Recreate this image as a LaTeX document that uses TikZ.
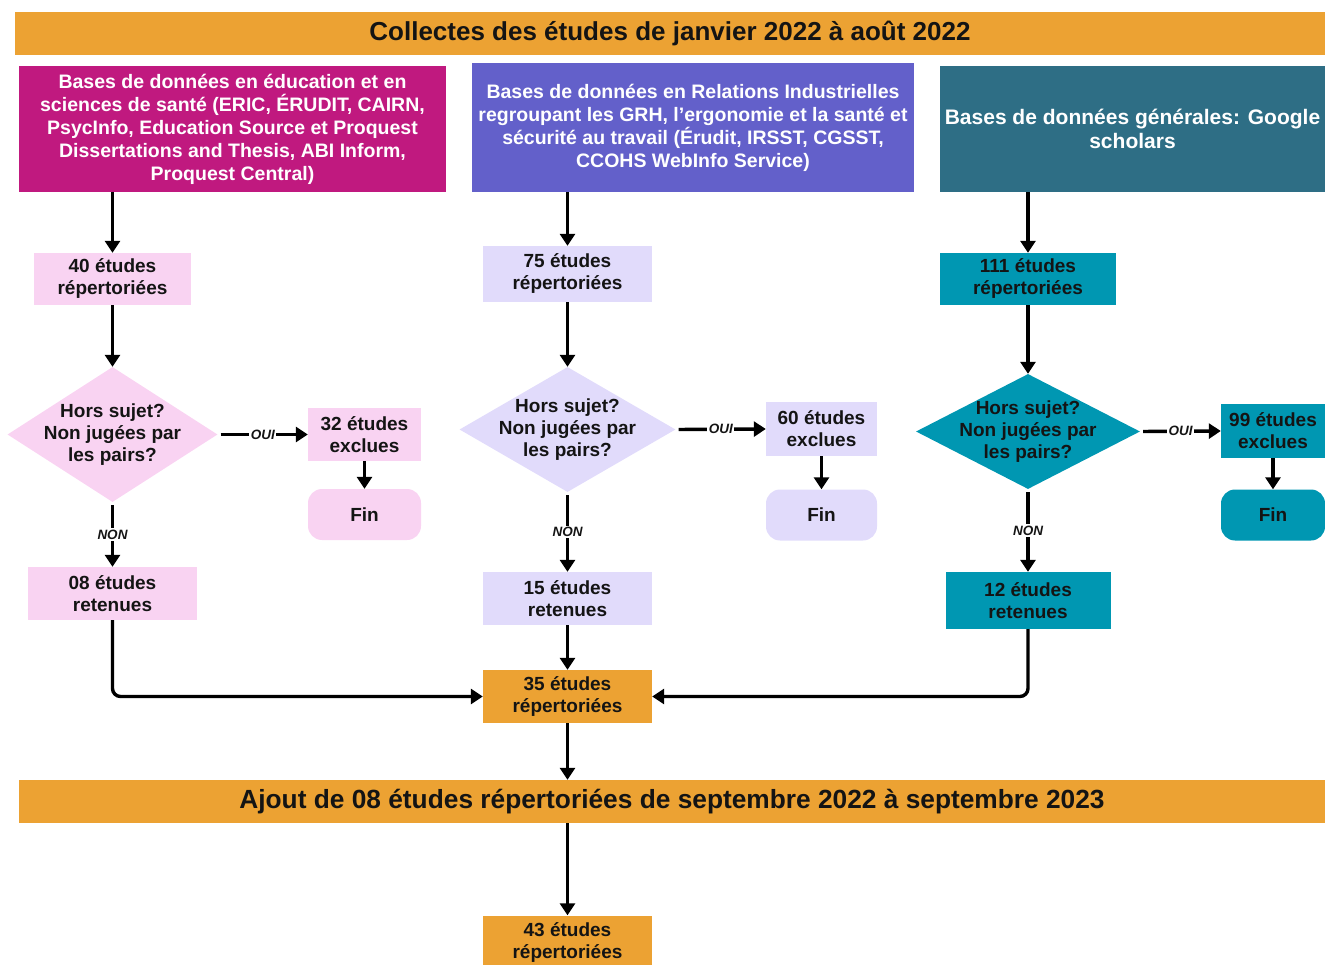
\documentclass[tikz,border=0pt]{standalone}
\usepackage{fontspec}
\setmainfont{Liberation Sans}
\usetikzlibrary{arrows.meta,shapes.geometric}

\definecolor{barorange}{HTML}{ECA233}
\definecolor{srcmagenta}{HTML}{C0197F}
\definecolor{srcpurple}{HTML}{6360CA}
\definecolor{srcteal}{HTML}{2E6E85}
\definecolor{lightpink}{HTML}{F9D3F2}
\definecolor{lavender}{HTML}{E1DBFB}
\definecolor{cyanteal}{HTML}{0097B2}
\definecolor{ink}{HTML}{141414}

\begin{document}
\begin{tikzpicture}
  [x=1pt, y=-1pt,
    every node/.style={align=center, inner sep=0pt, text=ink,
      font=\bfseries\fontsize{19}{22}\selectfont},
    bar/.style={fill=barorange, minimum height=43pt,
      font=\bfseries\fontsize{26.3}{28}\selectfont},
    source/.style={fill=#1, text=white,
      font=\bfseries\fontsize{19.5}{23}\selectfont},
    count/.style={fill=#1},
    quest/.style={diamond, fill=#1},
    endbox/.style={fill=#1, rounded corners=14pt, minimum height=51pt},
    arr/.style={line width=3.4pt, -{Triangle[length=12pt,width=15pt]}},
    lbl/.style={fill=white, inner sep=1.5pt,
      font=\bfseries\itshape\fontsize{13.5}{15}\selectfont}]

  \useasboundingbox (0,0) rectangle (1325,965);

  % title
  \node[bar, minimum width=1310pt, font=\bfseries\fontsize{26}{28}\selectfont] (top) at (670,33.5)
    {Collectes des études de janvier 2022 à août 2022};

  % sources
  \node[source=srcmagenta, minimum width=427pt, minimum height=126pt] (src1) at (232.5,129)
    {Bases de données en éducation et en\\
     sciences de santé (ERIC, ÉRUDIT, CAIRN,\\
     PsycInfo, Education Source et Proquest\\
     Dissertations and Thesis, ABI Inform,\\
     Proquest Central)};
  \node[source=srcpurple, minimum width=442pt, minimum height=129pt] (src2) at (693,127.5)
    {Bases de données en Relations Industrielles\\
     regroupant les GRH, l’ergonomie et la santé et\\
     sécurité au travail (Érudit, IRSST, CGSST,\\
     CCOHS WebInfo Service)};
  \node[source=srcteal, minimum width=385pt, minimum height=126pt,
    font=\bfseries\fontsize{21}{24}\selectfont] (src3) at (1132.5,129)
    {Bases de données générales: Google\\scholars};

  % counts
  \node[count=lightpink, minimum width=157pt, minimum height=52pt] (n40) at (112.5,279) {40 études\\répertoriées};
  \node[count=lavender, minimum width=169pt, minimum height=56pt] (n75) at (567.5,274) {75 études\\répertoriées};
  \node[count=cyanteal, minimum width=176pt, minimum height=52pt] (n111) at (1028,279) {111 études\\répertoriées};

  % questions
  \node[quest=lightpink, minimum width=210pt, minimum height=135pt] (q1) at (112.5,434.5) {};
  \node[quest=lavender, minimum width=216pt, minimum height=125pt] (q2) at (567.5,429.5) {};
  \node[quest=cyanteal, minimum width=224pt, minimum height=115pt] (q3) at (1028,431.5) {};
  \node (q1t) at (q1) {Hors sujet?\\Non jugées par\\les pairs?};
  \node (q2t) at (q2) {Hors sujet?\\Non jugées par\\les pairs?};
  \node (q3t) at (q3) {Hors sujet?\\Non jugées par\\les pairs?};

  % excluded
  \node[count=lightpink, minimum width=113pt, minimum height=53pt] (x32) at (364.5,434.5) {32 études\\exclues};
  \node[count=lavender, minimum width=111pt, minimum height=54pt] (x60) at (821.5,429) {60 études\\exclues};
  \node[count=cyanteal, minimum width=104pt, minimum height=54pt] (x99) at (1273,431) {99 études\\exclues};

  \node[endbox=lightpink, minimum width=113pt] (f1) at (364.5,514.5) {Fin};
  \node[endbox=lavender, minimum width=111pt] (f2) at (821.5,515) {Fin};
  \node[endbox=cyanteal, minimum width=104pt] (f3) at (1273,515) {Fin};

  % retained
  \node[count=lightpink, minimum width=169pt, minimum height=53pt] (r08) at (112.5,593.5) {08 études\\retenues};
  \node[count=lavender, minimum width=169pt, minimum height=53pt] (r15) at (567.5,598.5) {15 études\\retenues};
  \node[count=cyanteal, minimum width=165pt, minimum height=57pt] (r12) at (1028,600.5) {12 études\\retenues};

  \node[count=barorange, minimum width=169pt, minimum height=53pt] (n35) at (567.5,696.5) {35 études\\répertoriées};
  \node[bar, minimum width=1306pt] (bottom) at (672,801.5)
    {Ajout de 08 études répertoriées de septembre 2022 à septembre 2023};
  \node[count=barorange, minimum width=169pt, minimum height=53pt] (n43) at (567.5,942) {43 études\\répertoriées};

  % connectors
  \draw[arr] (n40 |- src1.south) -- (n40);
  \draw[arr] (n75 |- src2.south) -- (n75);
  \draw[arr] (n111 |- src3.south) -- (n111);

  \draw[arr] (n40) -- (q1);
  \draw[arr] (n75) -- (q2);
  \draw[arr] (n111) -- (q3);

  \draw[arr, shorten <=3pt] (q1.east) -- node[lbl] {OUI} (x32.west);
  \draw[arr, shorten <=3pt] (q2.east) -- node[lbl] {OUI} (x60.west);
  \draw[arr, shorten <=3pt] (q3.east) -- node[lbl] {OUI} (x99.west);

  \draw[arr] (x32) -- (f1);
  \draw[arr] (x60) -- (f2);
  \draw[arr] (x99) -- (f3);

  \draw[arr, shorten <=3pt] (q1.south) -- node[lbl] {NON} (r08.north);
  \draw[arr, shorten <=3pt] (q2.south) -- node[lbl] {NON} (r15.north);
  \draw[arr, shorten <=3pt] (q3.south) -- node[lbl] {NON} (r12.north);

  \draw[arr, rounded corners=8pt] (r08.south) |- (n35.west);
  \draw[arr] (r15) -- (n35);
  \draw[arr, rounded corners=8pt] (r12.south) |- (n35.east);

  \draw[arr] (n35.south) -- (n35.south |- bottom.north);
  \draw[arr] (n43 |- bottom.south) -- (n43);

\end{tikzpicture}
\end{document}
